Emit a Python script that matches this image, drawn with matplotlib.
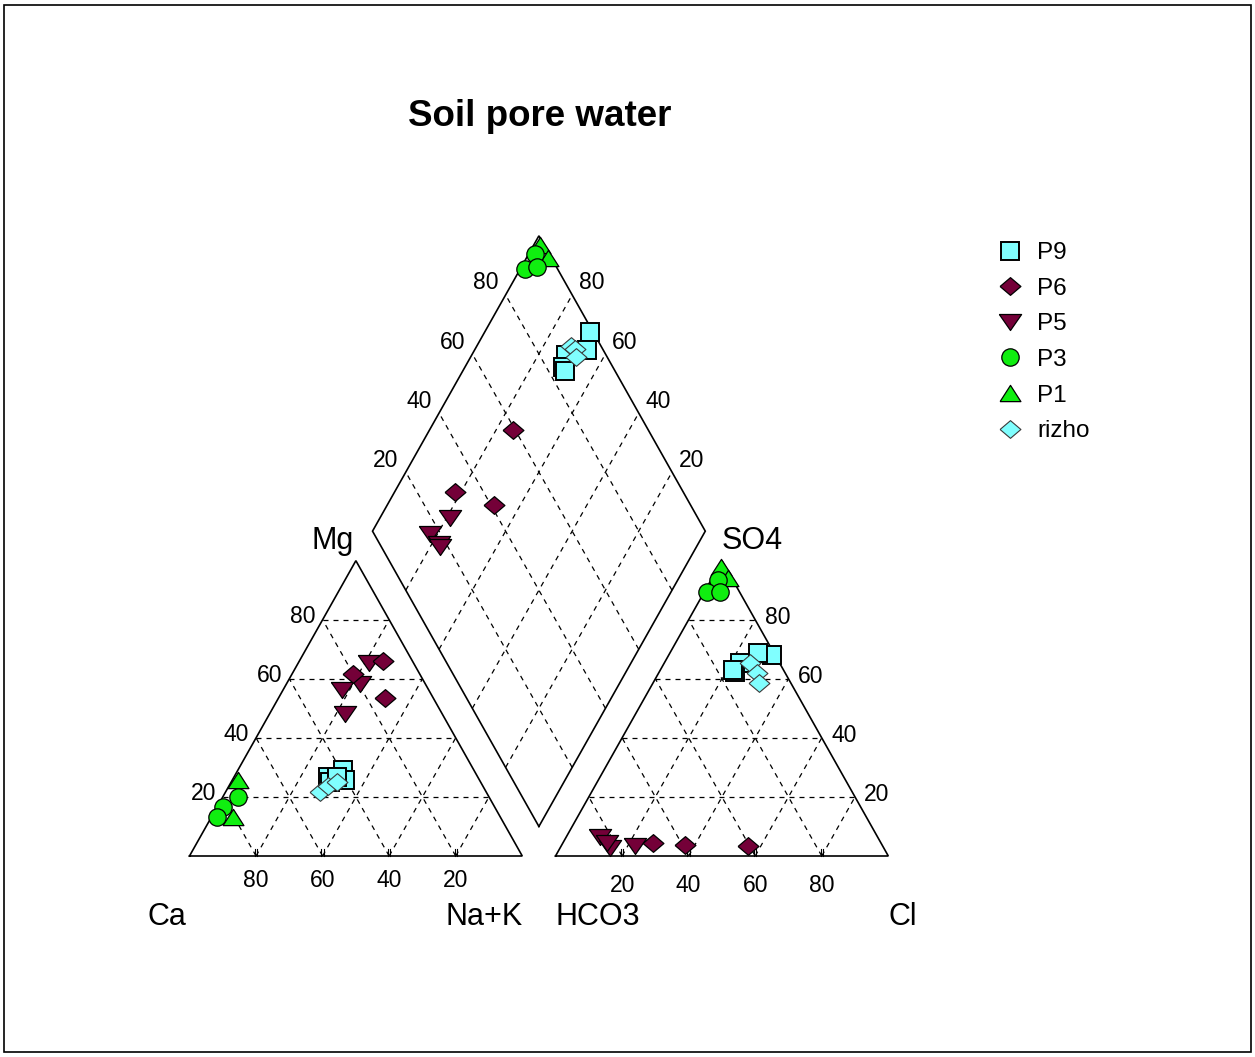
import numpy as np
import matplotlib
matplotlib.use('Agg')
import matplotlib.pyplot as plt
from matplotlib.patches import Rectangle

plt.rcParams['font.family'] = ['Liberation Sans', 'DejaVu Sans']

# ---------------- data (percent of meq) ----------------
P9_Ca   = [39.2, 40.4, 44.8, 45.2, 42.3]
P9_Mg   = [29.1, 25.7, 26.9, 25.2, 26.9]
P9_NaK  = [31.7, 33.9, 28.3, 29.6, 30.8]
P9_HCO3 = [0.9, 4.8, 11.9, 14.9, 15.1]
P9_SO4  = [68.1, 68.6, 65.3, 62.4, 63.0]
P9_Cl   = [31.0, 26.6, 22.8, 22.7, 21.9]

P6_Ca   = [8.8, 20.2, 14.5]
P6_Mg   = [66.1, 61.6, 53.6]
P6_NaK  = [25.1, 18.2, 31.9]
P6_HCO3 = [40.6, 68.5, 59.1]
P6_SO4  = [3.4, 4.3, 3.7]
P6_Cl   = [56.0, 27.2, 37.2]

P5_Ca   = [13.5, 26.1, 19.7, 29.1]
P5_Mg   = [65.3, 56.2, 58.1, 48.1]
P5_NaK  = [21.2, 17.7, 22.2, 22.8]
P5_HCO3 = [74.4, 83.4, 82.3, 82.5]
P5_SO4  = [3.4, 6.5, 2.6, 4.3]
P5_Cl   = [22.2, 10.1, 15.1, 13.2]

P3_Ca   = [81.5, 85.2, 75.4]
P3_Mg   = [16.7, 13.3, 19.9]
P3_NaK  = [1.8, 1.5, 4.7]
P3_HCO3 = [4.3, 9.8, 5.8]
P3_SO4  = [93.5, 89.5, 89.5]
P3_Cl   = [2.2, 0.7, 4.7]

P1_Ca   = [72.5, 80.2]
P1_Mg   = [25.7, 13.3]
P1_NaK  = [1.8, 6.5]
P1_HCO3 = [1.2, 1.1]
P1_SO4  = [97.9, 94.0]
P1_Cl   = [0.9, 4.9]

RZ_Ca   = [49.9, 46.4, 43.2]
RZ_Mg   = [21.8, 23.7, 25.2]
RZ_NaK  = [28.3, 29.9, 31.6]
RZ_HCO3 = [8.9, 8.5, 9.5]
RZ_SO4  = [65.3, 61.9, 58.5]
RZ_Cl   = [25.8, 29.6, 32.0]

ticks = [20, 40, 60, 80]
title = 'Soil pore water'

# ---------------- geometry ----------------
H = np.sqrt(3) / 2
OFF = 110.0
GAP = OFF - 100.0
BX, BY = 100 + GAP / 2, GAP * H


def cat_xy(ca, mg, nak):
    ca, mg, nak = map(np.asarray, (ca, mg, nak))
    t = ca + mg + nak
    mg, nak = 100 * mg / t, 100 * nak / t
    return nak + mg / 2, mg * H


def an_xy(hco3, so4, cl):
    hco3, so4, cl = map(np.asarray, (hco3, so4, cl))
    t = hco3 + so4 + cl
    so4, cl = 100 * so4 / t, 100 * cl / t
    return OFF + cl + so4 / 2, so4 * H


def dia_xy(c, s):
    c, s = np.asarray(c, float), np.asarray(s, float)
    return BX - c / 2 + s / 2, BY + (c + s) * H


fig = plt.figure(figsize=(12.55, 10.57), dpi=100)
ax = fig.add_axes([0, 0, 1, 1])
SX, SY = 3.3276, 3.41
ax.set_xlim(-189.5 / SX, (1255 - 189.5) / SX)
ax.set_ylim((856 - 1057) / SY, 856 / SY)
ax.axis('off')

fig.patches.append(Rectangle((4 / 1255, 5 / 1057), 1247 / 1255, 1047 / 1057,
                             transform=fig.transFigure, fill=False,
                             edgecolor='black', linewidth=1.2))

solid = dict(color='black', lw=1.2, zorder=2, solid_joinstyle='miter')
dash = dict(color='black', lw=0.9, ls=(0, (4, 4)), zorder=1)

# cation triangle
x, y = cat_xy([100, 0, 0, 100], [0, 0, 100, 0], [0, 100, 0, 0])
ax.plot(x, y, **solid)
# anion triangle
x, y = an_xy([100, 0, 0, 100], [0, 0, 100, 0], [0, 100, 0, 0])
ax.plot(x, y, **solid)
# diamond
x, y = dia_xy([0, 100, 100, 0, 0], [0, 0, 100, 100, 0])
ax.plot(x, y, **solid)

for k in ticks:
    r = 100 - k
    # cation grid
    for (a, b) in [((r, k, 0), (0, k, r)), ((r, 0, k), (0, r, k)), ((k, 0, r), (k, r, 0))]:
        x, y = cat_xy(*zip(a, b))
        ax.plot(x, y, **dash)
    # anion grid
    for (a, b) in [((r, k, 0), (0, k, r)), ((r, 0, k), (0, r, k)), ((k, 0, r), (k, r, 0))]:
        x, y = an_xy(*zip(a, b))
        ax.plot(x, y, **dash)
    # diamond grid
    x, y = dia_xy([k, k], [0, 100]); ax.plot(x, y, **dash)
    x, y = dia_xy([0, 100], [k, k]); ax.plot(x, y, **dash)

    # base tick marks
    for bx in [r, OFF + k]:
        for d in (-0.35, 0.35):
            ax.plot([bx + d, bx + d], [0, 2.0], color='black', lw=0.8, zorder=2)

TF = 16.5
for k in ticks:
    # cation: Mg on left side, Ca on base
    x, y = cat_xy(100 - k, k, 0)
    ax.text(x - 2.1, y + 0.9, str(k), ha='right', va='center', fontsize=TF)
    x, y = cat_xy(k, 0, 100 - k)
    ax.text(x, -7.2, str(k), ha='center', va='center', fontsize=TF)
    # anion: SO4 on right side, Cl on base
    x, y = an_xy(0, k, 100 - k)
    ax.text(x + 2.8, y + 0.6, str(k), ha='left', va='center', fontsize=TF)
    x, y = an_xy(100 - k, 0, k)
    ax.text(x, -8.7, str(k), ha='center', va='center', fontsize=TF)
    # diamond
    x, y = dia_xy(100, k)
    ax.text(x - 2.2, y + 3.5, str(k), ha='right', va='center', fontsize=TF)
    x, y = dia_xy(k, 100)
    ax.text(x + 2.0, y + 3.5, str(k), ha='left', va='center', fontsize=TF)

LF = 22
ax.text(43.1, 92.3, 'Mg', ha='center', va='center', fontsize=LF)
ax.text(169.0, 92.3, 'SO4', ha='center', va='center', fontsize=LF)
ax.text(-6.8, -18.0, 'Ca', ha='center', va='center', fontsize=LF)
ax.text(100, -18.0, 'Na+K', ha='right', va='center', fontsize=LF)
ax.text(OFF, -18.0, 'HCO3', ha='left', va='center', fontsize=LF)
ax.text(214.4, -18.0, 'Cl', ha='center', va='center', fontsize=LF)
ax.text(105.1, 216.8, title, ha='center', va='center', fontsize=26.5, fontweight='bold')

CYAN = '#80FFFF'
MAROON = '#740038'
GREEN = '#10EE10'
up_tri = [(-1, -0.78), (1, -0.78), (0, 0.78), (-1, -0.78)]
down_tri = [(-1, 0.72), (1, 0.72), (0, -0.72), (-1, 0.72)]
rhomb = [(-1, 0), (0, 0.85), (1, 0), (0, -0.85), (-1, 0)]

groups = [
    ('P1', P1_Ca, P1_Mg, P1_NaK, P1_HCO3, P1_SO4, P1_Cl,
     dict(marker=up_tri, ms=15, mfc=GREEN, mec='black', mew=0.9)),
    ('P3', P3_Ca, P3_Mg, P3_NaK, P3_HCO3, P3_SO4, P3_Cl,
     dict(marker='o', ms=12.5, mfc=GREEN, mec='black', mew=0.9)),
    ('P5', P5_Ca, P5_Mg, P5_NaK, P5_HCO3, P5_SO4, P5_Cl,
     dict(marker=down_tri, ms=16, mfc=MAROON, mec='black', mew=0.9)),
    ('P6', P6_Ca, P6_Mg, P6_NaK, P6_HCO3, P6_SO4, P6_Cl,
     dict(marker=rhomb, ms=15, mfc=MAROON, mec='black', mew=0.9)),
    ('P9', P9_Ca, P9_Mg, P9_NaK, P9_HCO3, P9_SO4, P9_Cl,
     dict(marker='s', ms=13.5, mfc=CYAN, mec='black', mew=1.4)),
    ('rizho', RZ_Ca, RZ_Mg, RZ_NaK, RZ_HCO3, RZ_SO4, RZ_Cl,
     dict(marker=rhomb, ms=15, mfc=CYAN, mec='#3a3a3a', mew=0.8)),
]

handles = {}
for name, ca, mg, nak, hco3, so4, cl, st in groups:
    ca, mg, nak = map(np.asarray, (ca, mg, nak))
    hco3, so4, cl = map(np.asarray, (hco3, so4, cl))
    cx, cy = cat_xy(ca, mg, nak)
    axx, ayy = an_xy(hco3, so4, cl)
    c = 100 * (ca + mg) / (ca + mg + nak)
    s = 100 * (so4 + cl) / (hco3 + so4 + cl)
    dx, dy = dia_xy(c, s)
    h, = ax.plot(cx, cy, ls='none', zorder=3, **st)
    ax.plot(axx, ayy, ls='none', zorder=3, **st)
    ax.plot(dx, dy, ls='none', zorder=3, **st)
    handles[name] = h

order = ['P9', 'P6', 'P5', 'P3', 'P1', 'rizho']
fig.legend([handles[n] for n in order], order, loc='upper left',
           bbox_to_anchor=(998 / 1255, 1 - 242 / 1057), frameon=False,
           fontsize=17.5, handlelength=1.0, handletextpad=0.6, labelspacing=0.56,
           borderpad=0, borderaxespad=0, numpoints=1)

fig.savefig('out.png', dpi=100)
